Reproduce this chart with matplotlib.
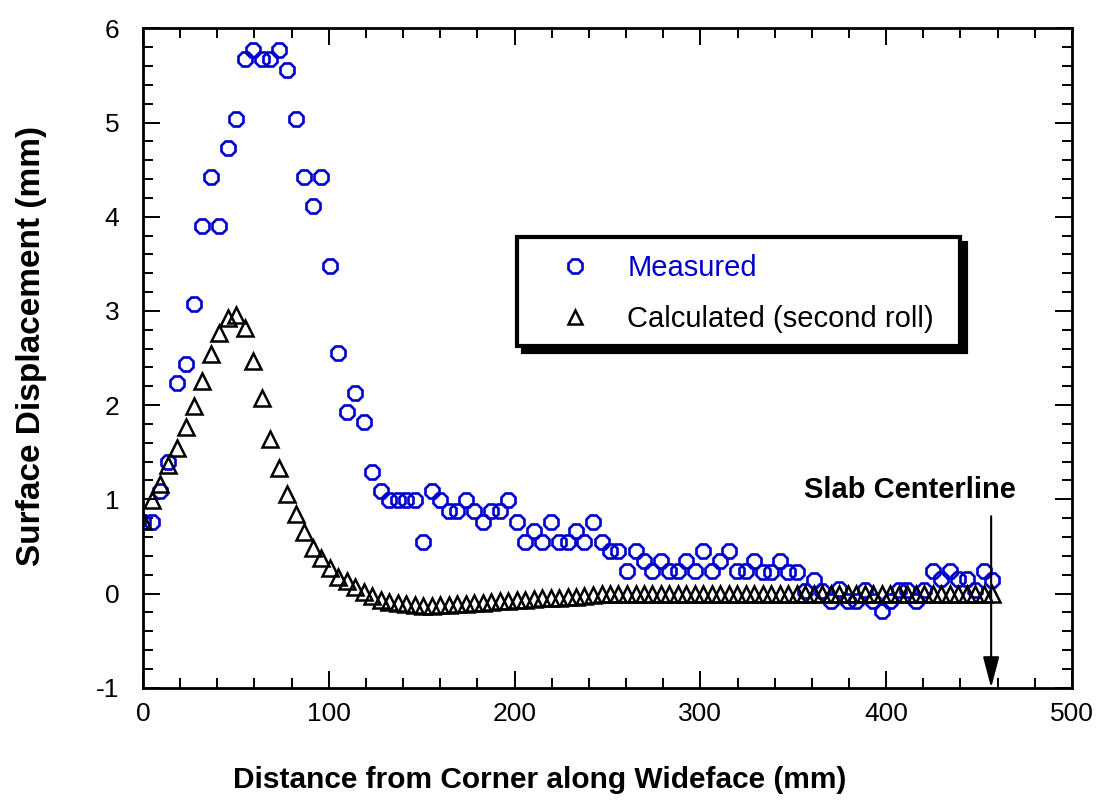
import matplotlib
matplotlib.use("Agg")
import matplotlib.pyplot as plt
from matplotlib.patches import Rectangle
from matplotlib.ticker import MultipleLocator

plt.rcParams['font.family'] = ['Liberation Sans', 'DejaVu Sans']
plt.rcParams['axes.unicode_minus'] = False

# positions along the wideface (mm), same grid for both series
distance_mm = [
    0.0, 4.6, 9.1, 13.7, 18.3, 22.9, 27.4, 32.0, 36.6, 41.1,
    45.7, 50.3, 54.8, 59.4, 64.0, 68.6, 73.1, 77.7, 82.3, 86.8,
    91.4, 96.0, 100.5, 105.1, 109.7, 114.3, 118.8, 123.4, 128.0, 132.5,
    137.1, 141.7, 146.2, 150.8, 155.4, 160.0, 164.5, 169.1, 173.7, 178.2,
    182.8, 187.4, 191.9, 196.5, 201.1, 205.7, 210.2, 214.8, 219.4, 223.9,
    228.5, 233.1, 237.6, 242.2, 246.8, 251.4, 255.9, 260.5, 265.1, 269.6,
    274.2, 278.8, 283.3, 287.9, 292.5, 297.1, 301.6, 306.2, 310.8, 315.3,
    319.9, 324.5, 329.0, 333.6, 338.2, 342.8, 347.3, 351.9, 356.5, 361.0,
    365.6, 370.2, 374.7, 379.3, 383.9, 388.5, 393.0, 397.6, 402.2, 406.7,
    411.3, 415.9, 420.4, 425.0, 429.6, 434.2, 438.7, 443.3, 447.9, 452.4,
    457.0,
]

measured = [
    0.76, 0.76, 1.09, 1.40, 2.24, 2.44, 3.07, 3.90, 4.42, 3.90,
    4.73, 5.04, 5.67, 5.77, 5.67, 5.67, 5.77, 5.56, 5.04, 4.42,
    4.11, 4.42, 3.48, 2.55, 1.93, 2.13, 1.82, 1.29, 1.09, 0.99,
    0.99, 0.99, 0.99, 0.55, 1.09, 0.99, 0.88, 0.88, 0.99, 0.88,
    0.76, 0.88, 0.88, 0.99, 0.76, 0.55, 0.66, 0.55, 0.76, 0.55,
    0.55, 0.66, 0.55, 0.76, 0.55, 0.45, 0.45, 0.24, 0.45, 0.35,
    0.24, 0.35, 0.24, 0.24, 0.35, 0.24, 0.45, 0.24, 0.35, 0.45,
    0.24, 0.24, 0.34, 0.23, 0.23, 0.34, 0.23, 0.23, 0.03, 0.14,
    0.03, -0.08, 0.05, -0.08, -0.08, 0.04, -0.08, -0.19, -0.08, 0.04,
    0.04, -0.08, 0.04, 0.24, 0.15, 0.24, 0.15, 0.15, 0.04, 0.24,
    0.14,
]

calculated = [
    0.77, 0.99, 1.16, 1.36, 1.55, 1.77, 1.99, 2.26, 2.54, 2.77,
    2.93, 2.96, 2.82, 2.47, 2.08, 1.64, 1.33, 1.06, 0.84, 0.65,
    0.48, 0.38, 0.27, 0.18, 0.13, 0.07, 0.02, -0.03, -0.07, -0.085,
    -0.10, -0.11, -0.12, -0.13, -0.13, -0.12, -0.12, -0.11, -0.11, -0.10,
    -0.10, -0.09, -0.08, -0.08, -0.07, -0.07, -0.06, -0.05, -0.05, -0.05,
    -0.04, -0.04, -0.03, -0.02, -0.01, -0.01, 0.0, 0.0, 0.0, 0.0,
    0.0, 0.0, 0.0, 0.0, 0.0, 0.0, 0.0, 0.0, 0.0, 0.0,
    0.0, 0.0, 0.0, 0.0, 0.0, 0.0, 0.0, 0.0, 0.0, 0.0,
    0.0, 0.0, 0.0, 0.0, 0.0, 0.0, 0.0, 0.0, 0.0, 0.0,
    0.0, 0.0, 0.0, 0.0, 0.0, 0.0, 0.0, 0.0, 0.0, 0.0,
    0.0,
]

centerline_mm = 456.5
blue = '#0000CC'

fig = plt.figure(figsize=(10.99, 8.02), dpi=100)
ax = fig.add_axes([0.1301, 0.1425, 0.8453, 0.8222])

meas_line, = ax.plot(distance_mm, measured, linestyle='none', marker='8',
                     markersize=11.5, markerfacecolor='none',
                     markeredgecolor=blue, markeredgewidth=1.9,
                     label='Measured')
calc_line, = ax.plot(distance_mm, calculated, linestyle='none', marker='^',
                     markersize=11, markerfacecolor='none',
                     markeredgecolor='black', markeredgewidth=1.8,
                     label='Calculated (second roll)')

ax.set_xlim(0, 500)
ax.set_ylim(-1, 6)
ax.xaxis.set_major_locator(MultipleLocator(100))
ax.xaxis.set_minor_locator(MultipleLocator(20))
ax.yaxis.set_major_locator(MultipleLocator(1))
ax.yaxis.set_minor_locator(MultipleLocator(0.2))
ax.tick_params(which='both', direction='in', top=True, right=True,
               width=1.4, labelsize=19)
ax.tick_params(which='major', length=12)
ax.tick_params(which='minor', length=7.5)
ax.tick_params(axis='x', pad=10)
ax.tick_params(axis='y', pad=17)
for sp in ax.spines.values():
    sp.set_linewidth(2)

ax.text(0.427, -0.140, 'Distance from Corner along Wideface (mm)',
        transform=ax.transAxes, ha='center', va='center',
        fontsize=21.5, fontweight='bold')
ax.text(-0.1198, 0.518, 'Surface Displacement (mm)', rotation=90,
        transform=ax.transAxes, ha='center', va='center',
        fontsize=24, fontweight='bold')

# slab centerline marker
ax.annotate('', xy=(centerline_mm, -1.0), xytext=(centerline_mm, 0.82),
            arrowprops=dict(arrowstyle='-|>,head_length=1.9,head_width=0.5',
                            color='black', lw=1.5, shrinkA=0, shrinkB=0,
                            mutation_scale=10))
ax.text(412.8, 1.10, 'Slab Centerline', ha='center', va='center',
        fontsize=21, fontweight='bold')

# legend box with a solid drop shadow
x0, y0, w, h = 0.4026, 0.5182, 0.4768, 0.1653
ax.add_patch(Rectangle((x0 + 0.0065, y0 - 0.0091), w, h, transform=ax.transAxes,
                       facecolor='black', edgecolor='black', lw=3, zorder=5))
ax.add_patch(Rectangle((x0, y0), w, h, transform=ax.transAxes,
                       facecolor='white', edgecolor='black', lw=3, zorder=6))
leg = ax.legend(handles=[meas_line, calc_line], loc='center left',
                bbox_to_anchor=(0.4493, 0.598), frameon=False, fontsize=21,
                markerscale=0.9, handlelength=1.0, handletextpad=1.3,
                labelspacing=0.8, borderpad=0, borderaxespad=0,
                labelcolor='markeredgecolor')
leg.set_zorder(7)

fig.savefig('out.png', dpi=100)
